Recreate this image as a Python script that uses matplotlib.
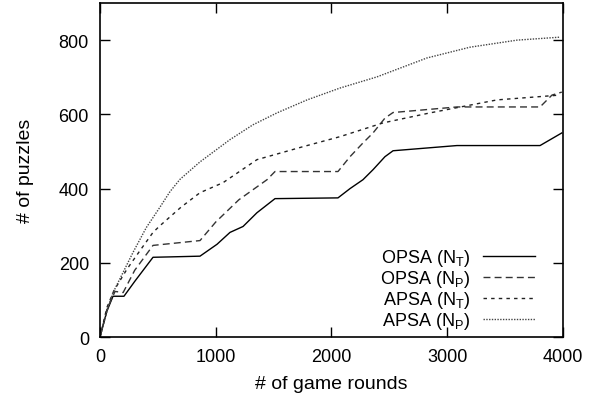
import numpy as np
import matplotlib
matplotlib.use('Agg')
import matplotlib.pyplot as plt

plt.rcParams['font.family'] = ['Liberation Sans', 'DejaVu Sans']
plt.rcParams['mathtext.fontset'] = 'custom'
plt.rcParams['mathtext.rm'] = 'Liberation Sans'
plt.rcParams['mathtext.it'] = 'Liberation Sans'

# OPSA (N_T)
opsa_nt_x = [0, 60, 112, 207, 300, 458, 600, 864, 1011, 1123, 1236, 1356, 1512, 2056,
             2160, 2272, 2359, 2462, 2532, 3084, 3802, 3990]
opsa_nt_y = [0, 70, 110, 110, 150, 215, 216, 218, 250, 282, 298, 335, 373, 375,
             400, 424, 451, 486, 502, 516, 516, 550]

# OPSA (N_P)
opsa_np_x = [0, 60, 130, 200, 300, 458, 864, 1000, 1200, 1443, 1512, 2056,
             2160, 2272, 2359, 2462, 2532, 3084, 3802, 3905, 3990]
opsa_np_y = [0, 75, 123, 120, 180, 247, 260, 310, 370, 424, 446, 446,
             486, 523, 550, 590, 605, 620, 620, 652, 660]

# APSA (N_T)
apsa_nt_x = [0, 60, 120, 233, 350, 458, 518, 700, 864, 1063, 1356, 1754, 2074,
             2445, 2851, 3430, 3974]
apsa_nt_y = [0, 80, 125, 183, 235, 282, 300, 350, 389, 416, 478, 513, 540,
             577, 604, 639, 652]

# APSA (N_P)
apsa_np_x = [0, 60, 110, 285, 400, 518, 605, 691, 864, 1123, 1322, 1529, 1789, 2074,
             2393, 2825, 3197, 3603, 3974]
apsa_np_y = [0, 70, 118, 228, 295, 350, 392, 425, 472, 532, 572, 604, 639, 671,
             701, 752, 781, 800, 808]

labels = ['OPSA (N$_\\mathrm{T}$)', 'OPSA (N$_\\mathrm{P}$)',
          'APSA (N$_\\mathrm{T}$)', 'APSA (N$_\\mathrm{P}$)']

fig = plt.figure(figsize=(5.97, 4.02), dpi=100)
ax = fig.add_axes([0.1675, 0.159, 0.7755, 0.831])

ax.plot(opsa_nt_x, opsa_nt_y, color='black', lw=1.0, ls='-', label=labels[0])
ax.plot(opsa_np_x, opsa_np_y, color='#333333', lw=1.0, ls=(0, (5, 3)), label=labels[1])
ax.plot(apsa_nt_x, apsa_nt_y, color='#222222', lw=1.0, ls=(0, (2.5, 3)), label=labels[2])
ax.plot(apsa_np_x, apsa_np_y, color='#444444', lw=1.0, ls=(0, (1, 1)), label=labels[3])

ax.set_xlim(0, 4000)
ax.set_ylim(0, 900)
ax.set_xticks([0, 1000, 2000, 3000, 4000])
ax.set_yticks([0, 200, 400, 600, 800])
ax.tick_params(direction='in', top=True, right=True, length=7, width=1,
               labelsize=13, pad=8)
for s in ax.spines.values():
    s.set_linewidth(1.2)

ax.set_xlabel('# of game rounds', fontsize=14, labelpad=7)
ax.set_ylabel('# of puzzles', fontsize=14, labelpad=18)

leg = ax.legend(loc='lower right', bbox_to_anchor=(0.975, -0.03), frameon=False,
                markerfirst=False, fontsize=13, handlelength=2.9,
                labelspacing=0.0, handletextpad=0.7, alignment='right')
for t in leg.get_texts():
    t.set_ha('right')

fig.savefig('out.png', dpi=100)
